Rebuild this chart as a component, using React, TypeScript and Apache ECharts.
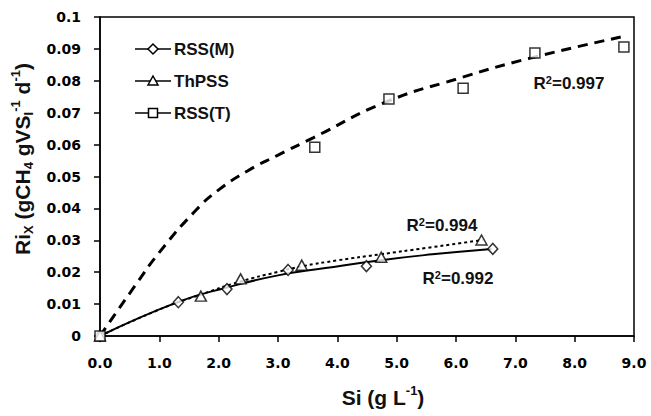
import React, { useEffect, useRef } from "react";
import * as echarts from "echarts";

// Measured points
const rssM_x = [0, 1.32, 2.14, 3.17, 4.49, 6.62];
const rssM_y = [0, 0.0106, 0.0147, 0.0207, 0.0219, 0.0273];
const thpss_x = [0, 1.7, 2.37, 3.4, 4.74, 6.43];
const thpss_y = [0, 0.0125, 0.0179, 0.0222, 0.0247, 0.0301];
const rssT_x = [0, 3.62, 4.87, 6.12, 7.33, 8.83];
const rssT_y = [0, 0.0592, 0.0743, 0.0777, 0.0887, 0.0906];

// Fitted curves
const fitM_x = [0, 1.32, 2.14, 3.0, 3.8, 4.7, 5.6, 6.6];
const fitM_y = [0, 0.0107, 0.0152, 0.019, 0.0213, 0.0237, 0.0256, 0.0273];
const fitTh_x = [0, 1.0, 1.7, 2.37, 3.0, 3.42, 4.0, 4.72, 5.5, 6.45];
const fitTh_y = [0, 0.0083, 0.013, 0.0171, 0.0201, 0.0219, 0.0237, 0.0256, 0.0276, 0.0301];
const fitT_x = [0, 0.6, 1.0, 1.6, 2.0, 2.5, 3.0, 3.6, 4.8, 6.0, 7.25, 8.85];
const fitT_y = [0, 0.016, 0.0262, 0.0391, 0.0458, 0.0519, 0.0567, 0.0622, 0.0732, 0.0805, 0.0871, 0.094];

const legendNames = ["RSS(M)", "ThPSS", "RSS(T)"];
const r2Labels = ["R{sup|2}=0.997", "R{sup|2}=0.994", "R{sup|2}=0.992"];

const zip = (xs: number[], ys: number[]) => xs.map((x, i) => [x, ys[i]]);

export default function App() {
  const ref = useRef<HTMLDivElement>(null);
  useEffect(() => {
    if (!ref.current) return;
    const chart = echarts.init(ref.current, null, { renderer: "svg" });
    const tickFont = {
      fontFamily: "DejaVu Sans",
      fontWeight: "bold" as const,
      fontSize: 14,
      color: "#000",
    };
    const lblFont = "Liberation Sans";
    const markerStyle = { color: "#fff", borderColor: "#000", borderWidth: 1.5 };
    const legendRows = [49, 81, 113];
    const legendGraphics: any[] = [];
    legendRows.forEach((y, i) => {
      legendGraphics.push({
        type: "line",
        shape: { x1: 135, y1: y, x2: 171, y2: y },
        style: { stroke: "#000", lineWidth: 1.5 },
      });
      if (i === 0) {
        legendGraphics.push({
          type: "polygon",
          shape: { points: [[153, y - 5], [158, y], [153, y + 5], [148, y]] },
          style: { fill: "#fff", stroke: "#000", lineWidth: 1.5 },
        });
      } else if (i === 1) {
        legendGraphics.push({
          type: "polygon",
          shape: { points: [[153, y - 5], [158, y + 4], [148, y + 4]] },
          style: { fill: "#fff", stroke: "#000", lineWidth: 1.5 },
        });
      } else {
        legendGraphics.push({
          type: "rect",
          shape: { x: 148.5, y: y - 4.5, width: 9, height: 9 },
          style: { fill: "#fff", stroke: "#000", lineWidth: 1.5 },
        });
      }
      legendGraphics.push({
        type: "text",
        x: 174,
        y: y,
        style: {
          text: legendNames[i],
          fontFamily: lblFont,
          fontWeight: "bold",
          fontSize: 17,
          fill: "#111",
          align: "left",
          verticalAlign: "middle",
        },
      });
    });
    const r2Pos = [
      [569, 83],
      [442, 225],
      [458, 278],
    ];
    const r2Graphics = r2Pos.map((p, i) => ({
      type: "text",
      x: p[0],
      y: p[1],
      style: {
        text: r2Labels[i],
        fontFamily: lblFont,
        fontWeight: "bold",
        fontSize: 17,
        fill: "#111",
        align: "center",
        verticalAlign: "middle",
        rich: {
          sup: {
            fontFamily: lblFont,
            fontWeight: "bold",
            fontSize: 11,
            verticalAlign: "top",
            lineHeight: 11,
            fill: "#111",
          },
        },
      },
    }));
    const titleRich = {
      sub: {
        fontFamily: lblFont,
        fontWeight: "bold",
        fontSize: 13,
        verticalAlign: "bottom",
        lineHeight: 13,
        fill: "#111",
      },
      sup: {
        fontFamily: lblFont,
        fontWeight: "bold",
        fontSize: 13,
        verticalAlign: "top",
        lineHeight: 13,
        fill: "#111",
      },
    };
    chart.setOption({
      animation: false,
      grid: {
        left: 100,
        right: 17,
        top: 17,
        bottom: 80,
        show: true,
        borderColor: "#000",
        borderWidth: 1.5,
        backgroundColor: "transparent",
      },
      xAxis: {
        type: "value",
        min: 0,
        max: 9,
        interval: 1,
        axisLine: { lineStyle: { color: "#000", width: 1.5 } },
        axisTick: { show: true, length: 6, lineStyle: { color: "#000", width: 1.5 } },
        splitLine: { show: false },
        axisLabel: {
          ...tickFont,
          margin: 20,
          formatter: (v: number) => v.toFixed(1),
        },
      },
      yAxis: {
        type: "value",
        min: 0,
        max: 0.1,
        interval: 0.01,
        axisLine: { show: true, lineStyle: { color: "#000", width: 1.5 } },
        axisTick: { show: true, length: 6, lineStyle: { color: "#000", width: 1.5 } },
        splitLine: { show: false },
        axisLabel: {
          ...tickFont,
          margin: 19,
          formatter: (v: number) => String(Math.round(v * 100) / 100),
        },
      },
      graphic: [
        ...legendGraphics,
        ...r2Graphics,
        {
          type: "text",
          x: 22,
          y: 159,
          rotation: Math.PI / 2,
          style: {
            text: "Ri{sub|X} (gCH{sub|4} gVS{sub|I}{sup|-1} d{sup|-1})",
            fontFamily: lblFont,
            fontWeight: "bold",
            fontSize: 21,
            lineHeight: 26,
            fill: "#111",
            align: "center",
            verticalAlign: "middle",
            rich: titleRich,
          },
        },
        {
          type: "text",
          x: 383,
          y: 397,
          style: {
            text: "Si (g L{sup|-1})",
            fontFamily: lblFont,
            fontWeight: "bold",
            fontSize: 21,
            lineHeight: 26,
            fill: "#111",
            align: "center",
            verticalAlign: "middle",
            rich: titleRich,
          },
        },
      ],
      series: [
        {
          type: "line",
          data: zip(fitT_x, fitT_y),
          smooth: true,
          symbol: "none",
          lineStyle: { color: "#000", width: 3, type: [10, 7] },
          z: 2,
        },
        {
          type: "line",
          data: zip(fitTh_x, fitTh_y),
          smooth: true,
          symbol: "none",
          lineStyle: { color: "#000", width: 2, type: [3, 3] },
          z: 2,
        },
        {
          type: "line",
          data: zip(fitM_x, fitM_y),
          smooth: true,
          symbol: "none",
          lineStyle: { color: "#000", width: 2 },
          z: 2,
        },
        {
          name: "RSS(M)",
          type: "scatter",
          data: zip(rssM_x, rssM_y),
          symbol: "diamond",
          symbolSize: [10, 11],
          itemStyle: markerStyle,
          z: 5,
        },
        {
          name: "ThPSS",
          type: "scatter",
          data: zip(thpss_x, thpss_y),
          symbol: "triangle",
          symbolSize: [11, 10],
          itemStyle: markerStyle,
          z: 5,
        },
        {
          name: "RSS(T)",
          type: "scatter",
          data: zip(rssT_x, rssT_y),
          symbol: "rect",
          symbolSize: 10,
          itemStyle: markerStyle,
          z: 5,
        },
      ],
    });
    return () => chart.dispose();
  }, []);
  return (
    <div
      ref={ref}
      style={{ position: "absolute", left: 0, top: 0, width: 651, height: 416 }}
    />
  );
}
